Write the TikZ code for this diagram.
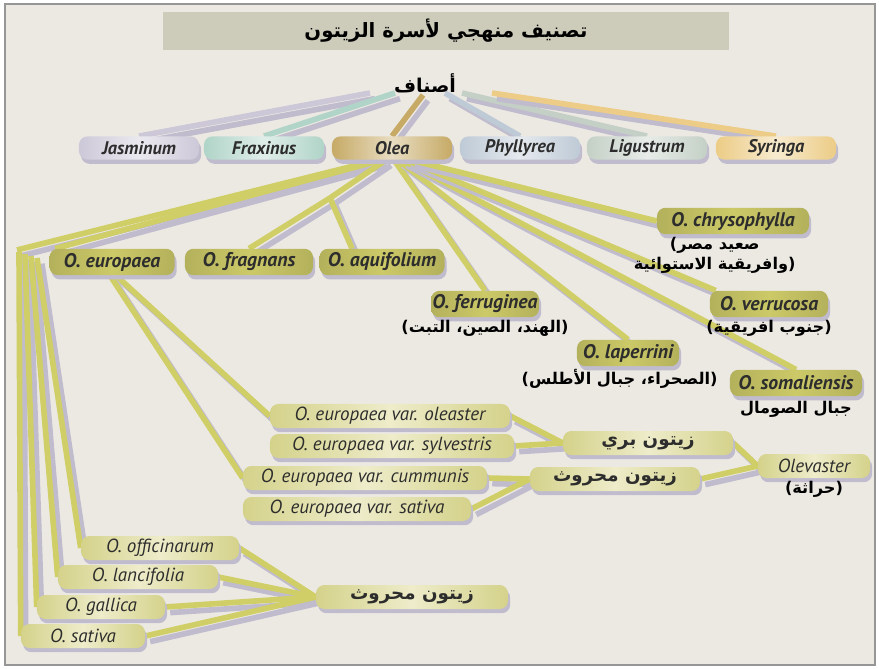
\documentclass[tikz,border=0pt]{standalone}
\usepackage{fontspec}
\setmainfont{PT Sans}
\newfontfamily\arabicfont[Script=Arabic]{DejaVu Sans}
\TeXXeTstate=1
\usepackage{xcolor}
\definecolor{colPaper}{RGB}{236,233,227}
\definecolor{colFrame}{RGB}{150,150,150}
\definecolor{colTitle}{RGB}{205,203,186}
\definecolor{colShadow}{RGB}{192,188,206}
\definecolor{colStem}{RGB}{208,206,102}
\definecolor{colSpec}{RGB}{204,201,104}
\definecolor{colVarEnd}{RGB}{212,210,138}
\definecolor{colVarMid}{RGB}{238,236,202}
\definecolor{colInk}{RGB}{45,45,45}
\definecolor{colJas}{RGB}{205,200,216}
\definecolor{colFra}{RGB}{176,212,200}
\definecolor{colOle}{RGB}{198,170,102}
\definecolor{colPhy}{RGB}{190,202,214}
\definecolor{colLig}{RGB}{196,208,198}
\definecolor{colSyr}{RGB}{236,204,134}
\usepackage{tikz}
\usetikzlibrary{positioning, calc, shadows}
\newcommand{\artxt}[1]{{\arabicfont\bfseries\beginR #1\endR}}
\pgfdeclarelayer{paper}
\pgfdeclarelayer{links}
\pgfsetlayers{paper,links,main}
\tikzset{
	stem/.style={line width=4pt, draw=#1, preaction={draw=colShadow, line width=4pt, transform canvas={shift={(3.5pt,-4pt)}}}},
	stem/.default=colStem,
	boxshadow/.style={drop shadow={shadow xshift=1.5pt, shadow yshift=-3pt, fill=colShadow, opacity=1}},
	genusbox/.style={rounded corners=6pt, minimum width=3cm, minimum height=0.58cm, inner sep=1pt, left color=#1, right color=#1, middle color=#1!40!white, boxshadow, text=colInk, font=\fontsize{13}{15}\selectfont\bfseries\itshape},
	specbox/.style={rounded corners=6pt, minimum height=0.66cm, inner sep=1pt, left color=colSpec!88!black, right color=colSpec!88!black, middle color=colSpec, boxshadow, text=colInk, font=\fontsize{14}{16}\selectfont\bfseries\itshape},
	varbox/.style={rounded corners=6pt, minimum height=0.6cm, inner sep=1pt, left color=colVarEnd, right color=colVarEnd, middle color=colVarMid, boxshadow, text=colInk, font=\fontsize{13.5}{15}\selectfont\itshape},
	sublabel/.style={inner sep=1pt, align=center, font=\fontsize{11.5}{14}\selectfont},
}
\begin{document}
\begin{tikzpicture}[x=0.025cm, y=-0.025cm]
	\useasboundingbox (0,0) rectangle (879,669);
	\begin{pgfonlayer}{paper}
		\fill[white] (0,0) rectangle (879,669);
		\draw[colFrame, fill=colPaper, line width=0.8pt] (5,4) rectangle (875,665);
	\end{pgfonlayer}

	% title and root
	\node[fill=colTitle, minimum width=14.15cm, minimum height=0.95cm, font=\fontsize{14}{16}\selectfont] (title) at (446,31) {\artxt{تصنيف منهجي لأسرة الزيتون}};
	\node[inner sep=1pt, font=\fontsize{13.5}{15}\selectfont] (asnaf) at (425,83) {\artxt{أصناف}};

	% genera
	\node[genusbox=colJas] (jas) at (139,148) {Jasminum};
	\node[genusbox=colFra] (fra) at (264,148) {Fraxinus};
	\node[genusbox=colOle] (olea) at (392,148) {Olea};
	\node[genusbox=colPhy] (phy) at (520,148) {Phyllyrea};
	\node[genusbox=colLig] (lig) at (647,148) {Ligustrum};
	\node[genusbox=colSyr] (syr) at (776,148) {Syringa};

	% species of Olea
	\node[specbox, minimum width=3.125cm] (eur) at (112,262) {O. europaea};
	\node[specbox, minimum width=3.2cm] (fra2) at (249,262) {O. fragnans};
	\node[specbox, minimum width=3.125cm] (aqu) at (382,262) {O. aquifolium};
	\node[specbox, minimum width=2.5cm] (fer) at (485,304) {O. ferruginea};
	\node[specbox, minimum width=3.8cm] (chr) at (733,221) {O. chrysophylla};
	\node[specbox, minimum width=2.95cm] (ver) at (769,304) {O. verrucosa};
	\node[specbox, minimum width=2.55cm] (lap) at (628,353) {O. laperrini};
	\node[specbox, minimum width=3.3cm] (som) at (796,383) {O. somaliensis};

	\node[sublabel, below=1pt of fer] (fersub) {\artxt{(الهند، الصين، التبت)}};
	\node[sublabel, below=1pt of chr, xshift=-13pt] (chrsub) {\artxt{صعيد مصر)}\\\artxt{(وافريقية الاستوائية}};
	\node[sublabel, below=1pt of ver] (versub) {\artxt{(جنوب افريقية)}};
	\node[sublabel, below=1pt of lap, xshift=-6pt] (lapsub) {\artxt{(الصحراء، جبال الأطلس)}};
	\node[sublabel, below=2pt of som] (somsub) {\artxt{جبال الصومال}};

	% varieties
	\node[varbox, minimum width=6cm] (ole) at (390,416) {O. europaea var. oleaster};
	\node[varbox, minimum width=6.1cm] (syl) at (392,446) {O. europaea var. sylvestris};
	\node[varbox, minimum width=6.1cm] (cum) at (365,478) {O. europaea var. cummunis};
	\node[varbox, minimum width=5.7cm] (vsat) at (357,509) {O. europaea var. sativa};
	\node[varbox, minimum width=4.25cm, font=\fontsize{13}{15}\selectfont] (bri) at (648,443) {\artxt{زيتون بري}};
	\node[varbox, minimum width=4.25cm, font=\fontsize{13}{15}\selectfont] (mah) at (615,479) {\artxt{زيتون محروث}};
	\node[varbox, minimum width=2.8cm] (olv) at (814,466) {Olevaster};
	\node[sublabel, below=1pt of olv] (olvsub) {\artxt{(حراثة)}};

	% cultivated forms
	\node[varbox, minimum width=3.95cm] (off) at (160,548) {O. officinarum};
	\node[varbox, minimum width=4cm] (lan) at (138,577) {O. lancifolia};
	\node[varbox, minimum width=3.2cm] (gal) at (101,607) {O. gallica};
	\node[varbox, minimum width=3.1cm] (osat) at (83,636) {O. sativa};
	\node[varbox, minimum width=4.8cm, font=\fontsize{13}{15}\selectfont] (mah2) at (412,597) {\artxt{زيتون محروث}};

	\coordinate (corner) at (17,250);
	\coordinate (fork) at (330,198);

	\begin{pgfonlayer}{links}
		% root to genera
		\draw[stem=colJas] (370,93) -- (jas.north);
		\draw[stem=colFra] (395,93) -- (fra.north);
		\draw[stem=colOle] (423,95) -- (olea.north);
		\draw[stem=colPhy] (445,93) -- (phy.north);
		\draw[stem=colLig] (462,93) -- (lig.north);
		\draw[stem=colSyr] (492,93) -- (syr.north);

		% Olea to species
		\draw[stem] ($(olea.south)+(-14,0)$) -- (corner);
		\draw[stem] ($(olea.south)+(-10,0)$) -- ($(eur.north west)+(6,0)$);
		\draw[stem] ($(olea.south)+(-6,0)$) -- (fork) -- (fra2.north);
		\draw[stem] (fork) -- ($(aqu.north)+(-30,0)$);
		\draw[stem] ($(olea.south)+(2,0)$) -- (fer.north);
		\draw[stem] ($(olea.south)+(6,0)$) -- (lap.north);
		\draw[stem] ($(olea.south)+(10,0)$) -- (som.north);
		\draw[stem] ($(olea.south)+(14,0)$) -- ($(ver.north west)+(6,0)$);
		\draw[stem] ($(olea.south)+(18,0)$) -- (chr.west);

		% left fan
		\draw[stem] ($(corner)+(2,2)$) -- (osat.west);
		\draw[stem] ($(corner)+(8,4)$) -- (gal.west);
		\draw[stem] ($(corner)+(14,6)$) -- (lan.west);
		\draw[stem] ($(corner)+(20,8)$) -- (off.west);

		% europaea varieties
		\draw[stem] ($(eur.south)+(4,0)$) -- (ole.west);
		\draw[stem] ($(eur.south)+(-2,0)$) -- (cum.west);
		\draw[stem] (ole.east) -- (bri.west);
		\draw[stem] (syl.east) -- (bri.west);
		\draw[stem] (cum.east) -- (mah.west);
		\draw[stem] (vsat.east) -- (mah.west);
		\draw[stem] (bri.east) -- (olv.west);
		\draw[stem] (mah.east) -- (olv.west);

		% cultivated to cultivated olive
		\draw[stem] (off.east) -- (mah2.west);
		\draw[stem] (lan.east) -- (mah2.west);
		\draw[stem] (gal.east) -- (mah2.west);
		\draw[stem] (osat.east) -- (mah2.west);
	\end{pgfonlayer}
\end{tikzpicture}
\end{document}
